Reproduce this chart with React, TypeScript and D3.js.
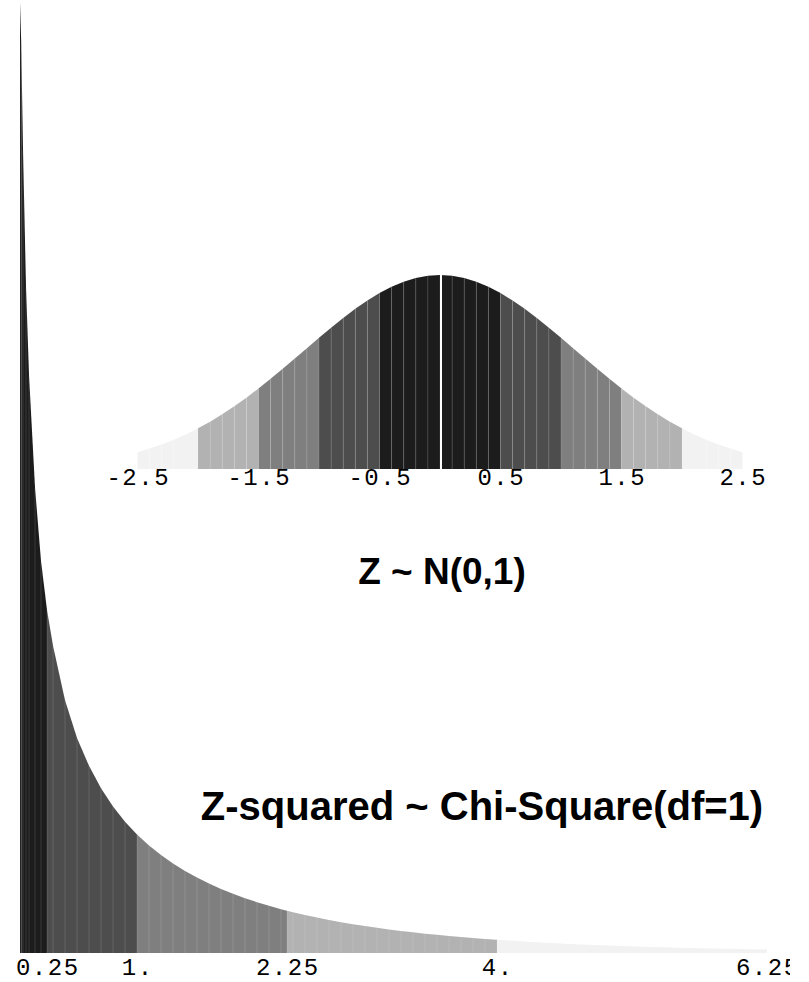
import React from 'react';
import * as d3 from 'd3';

const normalZ = [
  -2.5, -2.4, -2.3, -2.2, -2.1, -2.0, -1.9, -1.8, -1.7, -1.6, -1.5, -1.4, -1.3, -1.2, -1.1, -1.0, -0.9,
  -0.8, -0.7, -0.6, -0.5, -0.4, -0.3, -0.2, -0.1, 0, 0.1, 0.2, 0.3, 0.4, 0.5, 0.6, 0.7, 0.8, 0.9, 1.0,
  1.1, 1.2, 1.3, 1.4, 1.5, 1.6, 1.7, 1.8, 1.9, 2.0, 2.1, 2.2, 2.3, 2.4, 2.5,
];
const normalDensity = [
  0.0347, 0.042, 0.0504, 0.0602, 0.0712, 0.0836, 0.0974, 0.1125, 0.129, 0.1468, 0.1657, 0.1855, 0.2061,
  0.2273, 0.2486, 0.2699, 0.2907, 0.3107, 0.3295, 0.3467, 0.3619, 0.3748, 0.3852, 0.3928, 0.3974, 0.399,
  0.3974, 0.3928, 0.3852, 0.3748, 0.3619, 0.3467, 0.3295, 0.3107, 0.2907, 0.2699, 0.2486, 0.2273, 0.2061,
  0.1855, 0.1657, 0.1468, 0.129, 0.1125, 0.0974, 0.0836, 0.0712, 0.0602, 0.0504, 0.042, 0.0347,
];
const normalTicks = [-2.5, -1.5, -0.5, 0.5, 1.5, 2.5];
const normalTickLabels = ['-2.5', '-1.5', '-0.5', '0.5', '1.5', '2.5'];
const normalBandEdges = [0.5, 1, 1.5, 2];

// chi-square(1) curve
const chiX = [
  0.025, 0.035, 0.05, 0.075, 0.1, 0.15, 0.2, 0.25, 0.3, 0.4, 0.5, 0.6, 0.7, 0.8, 0.9, 1.0, 1.1, 1.2, 1.3,
  1.4, 1.5, 1.6, 1.7, 1.8, 1.9, 2.0, 2.1, 2.2, 2.25, 2.3, 2.4, 2.5, 2.6, 2.7, 2.8, 2.9, 3.0, 3.1, 3.2, 3.3,
  3.4, 3.5, 3.6, 3.7, 3.8, 3.9, 4.0, 4.1, 4.2, 4.3, 4.4, 4.5, 4.6, 4.7, 4.8, 4.9, 5.0, 5.1, 5.2, 5.3, 5.4,
  5.5, 5.6, 5.7, 5.8, 5.9, 6.0, 6.1, 6.2, 6.25,
];
const chiDensity = [
  1.94, 1.86, 1.64, 1.36, 1.18, 0.95, 0.8, 0.7, 0.627, 0.516, 0.439, 0.382, 0.336, 0.299, 0.268, 0.242,
  0.2195, 0.1999, 0.1827, 0.1674, 0.1539, 0.1417, 0.1308, 0.1209, 0.1119, 0.1038, 0.0963, 0.0895, 0.0863,
  0.0833, 0.0776, 0.0723, 0.0674, 0.0629, 0.0588, 0.055, 0.0514, 0.0481, 0.045, 0.0422, 0.0395, 0.0371,
  0.0348, 0.0326, 0.0306, 0.0287, 0.027, 0.0254, 0.0238, 0.0224, 0.0211, 0.0198, 0.0186, 0.0176, 0.0165,
  0.0156, 0.0146, 0.0138, 0.013, 0.0122, 0.0115, 0.0109, 0.0103, 0.0097, 0.0091, 0.0086, 0.0081, 0.0077,
  0.0072, 0.007,
];
const chiTicks = [0.25, 1, 2.25, 4, 6.25];
const chiTickLabels = ['0.25', '1.', '2.25', '4.', '6.25'];
const chiBandEdges = [0.25, 1, 2.25, 4];

const bandColors = ['#1c1c1c', '#4d4d4d', '#7f7f7f', '#b2b2b2', '#f2f2f2'];

const W = 790;
const H = 982;

export default function App() {
  const zx = d3.scaleLinear().domain([-2.5, 2.5]).range([137.5, 742.5]);
  const zy = d3.scaleLinear().domain([0, 0.4]).range([469, 274.6]);
  const cx = d3.scaleLinear().domain([0, 6.25]).range([17, 767]);
  const cy = d3.scaleLinear().domain([0, 1]).range([953, 463]);

  const zColor = d3.scaleThreshold<number, string>().domain(normalBandEdges).range(bandColors);
  const cColor = d3.scaleThreshold<number, string>().domain(chiBandEdges).range(bandColors);

  type P = { x: number; y: number };
  const zArea = d3.area<P>().x(d => zx(d.x)).y0(zy(0)).y1(d => zy(d.y));
  const cArea = d3.area<P>().x(d => cx(d.x)).y0(cy(0)).y1(d => cy(d.y));

  const zStrips = d3.pairs(normalZ.map((z, i) => ({ x: z, y: normalDensity[i] })));
  const cStrips = d3.pairs(chiX.map((v, i) => ({ x: v, y: chiDensity[i] })));

  const mono = { fontFamily: '"Liberation Mono", "Courier New", monospace', fontSize: 24, letterSpacing: 1.5 };
  const bold = { fontFamily: '"Liberation Sans", Arial, sans-serif', fontWeight: 'bold' as const };

  return (
    <svg width={W} height={H} style={{ position: 'absolute', left: 0, top: 0 }}>
      <rect width={W} height={H} fill="#fff" />

      {/* normal */}
      <g>
        {zStrips.map(([a, b], i) => (
          <path key={i} d={zArea([a, b]) || ''} fill={zColor(Math.abs((a.x + b.x) / 2))} />
        ))}
        {zStrips.slice(1).map(([a], i) => (
          <line key={i} x1={zx(a.x)} x2={zx(a.x)} y1={zy(0)} y2={zy(a.y)} stroke="#fff" strokeOpacity={0.16} strokeWidth={0.8} />
        ))}
        <line x1={zx(0) + 1} x2={zx(0) + 1} y1={zy(0)} y2={zy(0.399)} stroke="#fff" strokeWidth={2} />
        {normalTicks.map((t, i) => (
          <text key={t} x={zx(t)} dx={0.75} y={485} textAnchor="middle" {...mono}>{normalTickLabels[i]}</text>
        ))}
        <text x={442} y={584} textAnchor="middle" fontSize={37} {...bold}>Z ~ N(0,1)</text>
      </g>

      {/* chi-square */}
      <g>
        {cStrips.map(([a, b], i) => (
          <path key={i} d={cArea([a, b]) || ''} fill={cColor((a.x + b.x) / 2)} />
        ))}
        {cStrips.slice(1).map(([a], i) => (
          <line key={i} x1={cx(a.x)} x2={cx(a.x)} y1={cy(0)} y2={cy(a.y)} stroke="#fff" strokeOpacity={0.16} strokeWidth={0.8} />
        ))}
        {chiTicks.map((t, i) => (
          <text key={t} x={cx(t)} dx={0.75} y={975} textAnchor="middle" {...mono}>{chiTickLabels[i]}</text>
        ))}
        <text x={482} y={820} textAnchor="middle" fontSize={40} {...bold}>Z-squared ~ Chi-Square(df=1)</text>
      </g>
    </svg>
  );
}
